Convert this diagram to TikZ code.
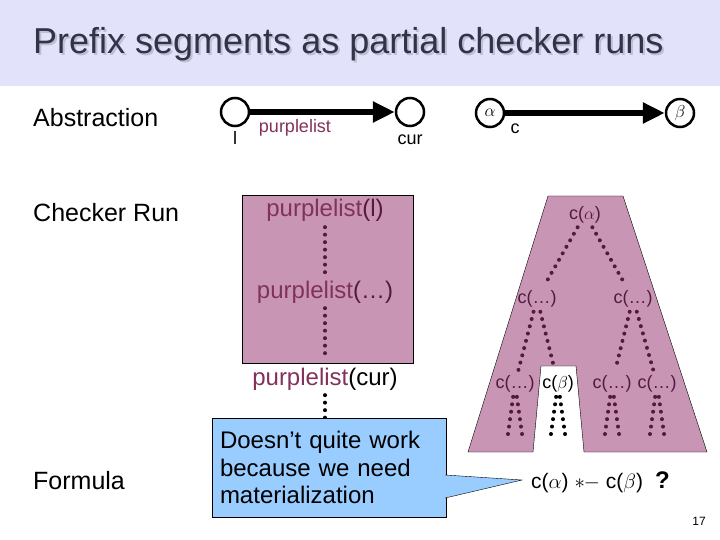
\documentclass[tikz,border=0pt]{standalone}
\usepackage{fontspec}
\setmainfont{Liberation Sans}
\usetikzlibrary{arrows.meta}
\definecolor{band}{RGB}{226,226,250}
\definecolor{titlecol}{RGB}{50,50,72}
\definecolor{shade}{RGB}{190,190,212}
\definecolor{runfill}{RGB}{200,150,180}
\definecolor{plist}{RGB}{130,50,90}
\definecolor{dark}{RGB}{85,25,60}
\definecolor{callfill}{RGB}{153,204,255}
\tikzset{
  every node/.style={inner sep=0pt},
  lbl/.style={anchor=base west, font=\fontsize{25}{30}\selectfont},
  st/.style={circle, draw, line width=2.5pt, minimum size=28pt, font=\fontsize{16}{18}\selectfont},
  small/.style={anchor=base, font=\fontsize{18}{20}\selectfont},
  run/.style={anchor=base, font=\fontsize{24}{28}\selectfont},
  tree/.style={anchor=base, font=\fontsize{18}{20}\selectfont, text=dark},
  dots/.style={line width=4pt, line cap=round, dash pattern=on 0pt off 7.5pt, shorten <=5pt, shorten >=5pt},
  edge/.style={line width=6pt, -{Triangle[length=22pt,width=20pt]}}
}
\begin{document}
\begin{tikzpicture}[x=1pt,y=-1pt]
  \useasboundingbox (0,0) rectangle (720,540);
  \fill[band] (0,0) rectangle (720,86);
  \node[anchor=base west, font=\fontsize{36}{40}\selectfont, text=shade] (titleshadow) at (35,56) {Prefix segments as partial checker runs};
  \node[anchor=base west, font=\fontsize{36}{40}\selectfont, text=titlecol] (title) at (33,54) {Prefix segments as partial checker runs};

  % row labels
  \node[lbl] (abs) at (33,127) {Abstraction};
  \node[lbl] (chk) at (33,222) {Checker Run};
  \node[lbl] (frm) at (33,489) {Formula};

  % abstraction
  \node[st] (l) at (235,112) {};
  \node[st] (cur) at (410,112) {};
  \draw[edge] (l) -- (cur);
  \node[small] (ltxt) at (235,145) {l};
  \node[small, text=plist] (pltxt) at (295,133) {purplelist};
  \node[small] (curtxt) at (410,145) {cur};
  \node[st] (a) at (490,113) {$\alpha$};
  \node[st] (b) at (680,113) {$\beta$};
  \draw[edge] (a) -- (b);
  \node[small] (ctxt) at (515,134) {c};

  % checker run, list
  \draw[fill=runfill] (242,195) rectangle (413,363);
  \node[run] (pl1) at (325,217) {\textcolor{plist}{purplelist}\textcolor{dark}{(l)}};
  \node[run] (pl2) at (325,298) {\textcolor{plist}{purplelist}\textcolor{dark}{(…)}};
  \node[run] (pl3) at (325,385) {\textcolor{plist}{purplelist}(cur)};
  \draw[dots,dark] (pl1) -- (pl2);
  \draw[dots,dark,shorten >=14pt] (pl2) -- (pl3);
  \draw[dots] (pl3) -- (325,430);

  % checker run, tree
  \draw[fill=runfill] (548,196) -- (623,196) -- (707,452) -- (584,452) -- (576,366)
    -- (541,366) -- (533,452) -- (468,452) -- cycle;
  \node[tree] (ca) at (585,219) {c($\alpha$)};
  \node[tree] (c1) at (537,303) {c(…)};
  \node[tree] (c2) at (633,303) {c(…)};
  \node[tree] (d1) at (515,388) {c(…)};
  \node[tree, text=black] (d2) at (558,388) {c($\beta$)};
  \node[tree] (d3) at (612,388) {c(…)};
  \node[tree] (d4) at (657,388) {c(…)};
  \draw[dots,dark] (ca) -- (c1);
  \draw[dots,dark] (ca) -- (c2);
  \draw[dots,dark] (c1) -- (d1);
  \draw[dots,dark,shorten >=12pt] (c1) -- (d2);
  \draw[dots,dark] (c2) -- (d3);
  \draw[dots,dark] (c2) -- (d4);
  \foreach \n in {d1,d2,d3,d4} {
    \coordinate (\n l) at ([xshift=-8pt,yshift=-53pt]\n.base);
    \coordinate (\n r) at ([xshift=8pt,yshift=-53pt]\n.base);
  }
  \draw[dots,dark,shorten >=0pt] (d1) -- (d1l);
  \draw[dots,dark,shorten >=0pt] (d1) -- (d1r);
  \draw[dots,shorten >=0pt] (d2) -- (d2l);
  \draw[dots,shorten >=0pt] (d2) -- (d2r);
  \draw[dots,dark,shorten >=0pt] (d3) -- (d3l);
  \draw[dots,dark,shorten >=0pt] (d3) -- (d3r);
  \draw[dots,dark,shorten >=0pt] (d4) -- (d4l);
  \draw[dots,dark,shorten >=0pt] (d4) -- (d4r);

  % formula
  \node[anchor=base west, font=\fontsize{21}{24}\selectfont] (fml) at (531,488) {c($\alpha$) $\ast$\kern-1pt$-$ c($\beta$)};
  \node[anchor=base west, font=\bfseries\fontsize{24}{26}\selectfont] (q) at (655,488) {?};

  % callout
  \node[draw, fill=callfill, text width=218pt, inner sep=8pt, minimum height=99pt, align=left,
    font=\fontsize{24}{27.5}\selectfont] (call) at (329,467.5) {Doesn’t quite work\\because we need\\materialization};
  \coordinate (tip) at (522,480);
  \draw[fill=callfill] ([xshift=-1pt,yshift=-7.5pt]call.east) -- (tip) -- ([xshift=-1pt,yshift=-30.5pt]call.east);

  \node[anchor=base east, font=\fontsize{12}{14}\selectfont] (page) at (706,525) {17};
\end{tikzpicture}
\end{document}
